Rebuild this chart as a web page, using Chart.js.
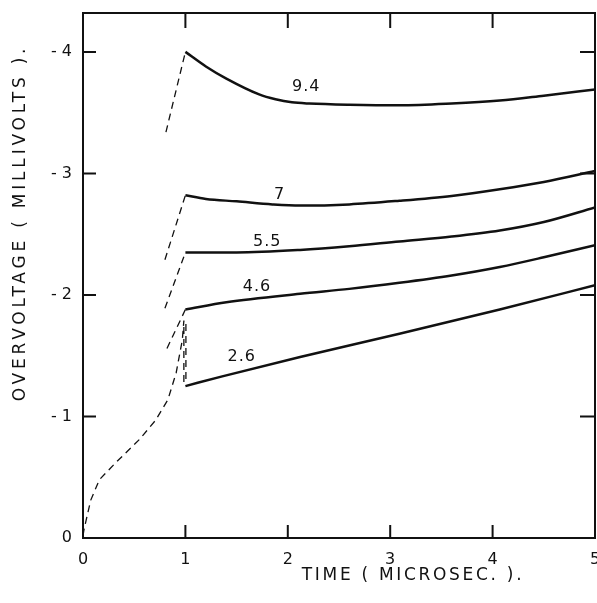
<!DOCTYPE html>
<html>
<head>
<meta charset="utf-8">
<script src="https://cdn.jsdelivr.net/npm/chart.js@4/dist/chart.umd.min.js"></script>
<style>
  html, body { margin: 0; padding: 0; background: #ffffff; }
  #wrap { width: 597px; height: 603px; position: relative; }
</style>
</head>
<body>
<div id="wrap"><canvas id="c"></canvas></div>
<script>
// ---- Data (time in microseconds, overvoltage magnitude in mV) ----
const xTickValues = [0, 1, 2, 3, 4, 5];
const yTickValues = [0, 1, 2, 3, 4];

// solid curves
const t94 = [1, 1.2, 1.4, 1.72, 1.88, 2.04, 2.21, 2.6, 3.09, 3.6, 4.07, 4.5, 5];
const v94 = [4.0, 3.88, 3.78, 3.65, 3.61, 3.585, 3.575, 3.565, 3.56, 3.575, 3.60, 3.64, 3.69];

const t70 = [1, 1.2, 1.5, 1.85, 2.12, 2.6, 3.09, 3.6, 4.07, 4.5, 5];
const v70 = [2.82, 2.79, 2.77, 2.745, 2.735, 2.745, 2.775, 2.815, 2.87, 2.93, 3.02];

const t55 = [1, 1.5, 2.12, 2.6, 3.09, 3.6, 4.07, 4.5, 5];
const v55 = [2.35, 2.35, 2.37, 2.40, 2.44, 2.48, 2.53, 2.60, 2.72];

const t46 = [1, 1.4, 2.12, 2.6, 3.09, 3.6, 4.07, 4.5, 5];
const v46 = [1.88, 1.94, 2.01, 2.05, 2.10, 2.16, 2.23, 2.31, 2.41];

const t26 = [1, 1.36, 2.12, 3.09, 4.07, 5];
const v26 = [1.25, 1.33, 1.49, 1.68, 1.88, 2.08];

// dashed lead-in curves
const d94t = [0.81, 1.0];  const d94v = [3.34, 4.0];
const d70t = [0.80, 1.0];  const d70v = [2.29, 2.82];
const d55t = [0.80, 1.0];  const d55v = [1.89, 2.35];
const d46t = [0.82, 1.0];  const d46v = [1.56, 1.88];
const d26t = [0, 0.01, 0.075, 0.16, 0.32, 0.55, 0.71, 0.83, 0.91, 0.97, 0.985, 0.985];
const d26v = [0.02, 0.07, 0.31, 0.48, 0.62, 0.81, 0.97, 1.14, 1.36, 1.63, 1.79, 1.28];
const d26bt = [1.005, 1.005]; const d26bv = [1.76, 1.28];

// curve labels
const curveLabels = ['9.4', '7', '5.5', '4.6', '2.6'];
const curveLabelX = [2.18, 1.92, 1.80, 1.70, 1.55];
const curveLabelY = [3.71, 2.82, 2.44, 2.07, 1.49];

const xTitle = 'TIME ( MICROSEC. ).';
const yTitle = 'OVERVOLTAGE ( MILLIVOLTS ).';

// ---- helpers ----
const FONT = '"DejaVu Sans", "Liberation Sans", sans-serif';
const pts = (xs, ys) => xs.map((x, i) => ({ x: x, y: ys[i] }));
const solid = (xs, ys, label) => ({
  label: label, data: pts(xs, ys), borderColor: '#111', borderWidth: 2.5,
  pointRadius: 0, fill: false, cubicInterpolationMode: 'monotone', tension: 0.4
});
const dashed = (xs, ys, label) => ({
  label: label, data: pts(xs, ys), borderColor: '#111', borderWidth: 1.3,
  borderDash: [7, 5], pointRadius: 0, fill: false, tension: 0
});

const framePlugin = {
  id: 'frame',
  afterDraw(chart) {
    const ctx = chart.ctx, a = chart.chartArea;
    const xs = chart.scales.x, ys = chart.scales.y;
    ctx.save();
    ctx.strokeStyle = '#111';
    ctx.lineWidth = 2;
    ctx.strokeRect(a.left, a.top, a.right - a.left, a.bottom - a.top);
    // inward ticks
    ctx.beginPath();
    yTickValues.filter(v => v > 0).forEach(v => {
      const py = ys.getPixelForValue(v);
      ctx.moveTo(a.left, py); ctx.lineTo(a.left + 13, py);
      ctx.moveTo(a.right, py); ctx.lineTo(a.right - 15, py);
    });
    xTickValues.filter(v => v > 0 && v < 5).forEach(v => {
      const px = xs.getPixelForValue(v);
      ctx.moveTo(px, a.bottom); ctx.lineTo(px, a.bottom - 13);
      ctx.moveTo(px, a.top); ctx.lineTo(px, a.top + 15);
    });
    ctx.stroke();
    // curve labels
    ctx.fillStyle = '#111';
    ctx.font = '16px ' + FONT;
    ctx.textAlign = 'center';
    ctx.textBaseline = 'middle';
    try { ctx.letterSpacing = '1px'; } catch (e) {}
    curveLabels.forEach((t, i) => {
      ctx.fillText(t, xs.getPixelForValue(curveLabelX[i]), ys.getPixelForValue(curveLabelY[i]));
    });
    // axis titles
    ctx.font = '17px ' + FONT;
    try { ctx.letterSpacing = '2.7px'; } catch (e) {}
    ctx.fillText(xTitle, 413, 576);
    ctx.save();
    ctx.translate(21, 223);
    ctx.rotate(-Math.PI / 2);
    try { ctx.letterSpacing = '3.8px'; } catch (e) {}
    ctx.fillText(yTitle, 0, 0);
    ctx.restore();
    ctx.restore();
  }
};

new Chart(document.getElementById('c'), {
  type: 'line',
  data: {
    datasets: [
      solid(t94, v94, '9.4'),
      solid(t70, v70, '7'),
      solid(t55, v55, '5.5'),
      solid(t46, v46, '4.6'),
      solid(t26, v26, '2.6'),
      dashed(d94t, d94v, '9.4 lead'),
      dashed(d70t, d70v, '7 lead'),
      dashed(d55t, d55v, '5.5 lead'),
      dashed(d46t, d46v, '4.6 lead'),
      dashed(d26t, d26v, '2.6 lead'),
      dashed(d26bt, d26bv, '2.6 drop')
    ]
  },
  options: {
    responsive: true,
    maintainAspectRatio: false,
    animation: false,
    events: [],
    layout: { padding: { top: 13, right: 2, left: 0, bottom: 0 } },
    plugins: { legend: { display: false }, tooltip: { enabled: false } },
    scales: {
      x: {
        type: 'linear', min: 0, max: 5,
        grid: { display: false, drawTicks: false },
        border: { display: false },
        ticks: {
          stepSize: 1, includeBounds: false, padding: 12, color: '#111',
          font: { size: 16, family: FONT },
          maxRotation: 0,
          callback: v => xTickValues.includes(v) ? String(v) : ''
        },
        afterFit(s) { s.height = 65; s.paddingLeft = 0; s.paddingRight = 0; }
      },
      y: {
        type: 'linear', min: 0, max: 4.32,
        grid: { display: false, drawTicks: false },
        border: { display: false },
        ticks: {
          stepSize: 1, includeBounds: false, padding: 11, color: '#111',
          font: { size: 16, family: FONT },
          callback: v => yTickValues.includes(v) ? (v === 0 ? '0' : '- ' + v) : ''
        },
        afterFit(s) { s.width = 83; s.paddingTop = 0; s.paddingBottom = 0; }
      }
    }
  },
  plugins: [framePlugin]
});
</script>
</body>
</html>
